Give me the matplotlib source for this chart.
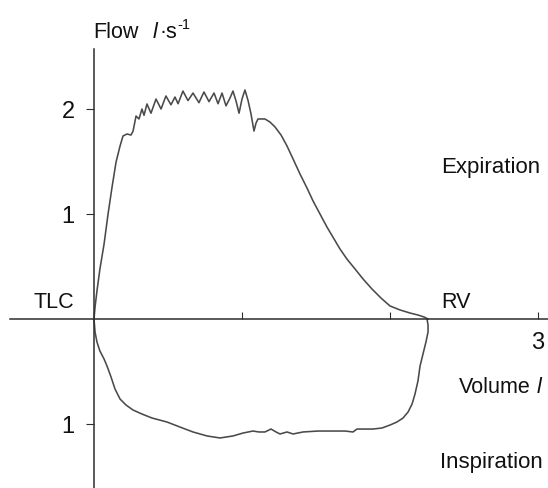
import matplotlib
matplotlib.use("Agg")
import matplotlib.pyplot as plt

# ---- data (volume in litres from TLC, flow in l/s; inspiration drawn downward) ----
exp_volume = [0.00, 0.007, 0.02, 0.04, 0.068, 0.095, 0.122, 0.149, 0.176, 0.196,
              0.223, 0.25, 0.264, 0.284, 0.304, 0.324, 0.338, 0.358, 0.385, 0.419,
              0.453, 0.486, 0.52, 0.547, 0.568, 0.601, 0.635, 0.669, 0.709, 0.743,
              0.777, 0.811, 0.838, 0.865, 0.892, 0.919, 0.939, 0.959, 0.98, 1.0,
              1.02, 1.041, 1.061, 1.081, 1.095, 1.108, 1.155, 1.189, 1.223, 1.264,
              1.304, 1.345, 1.392, 1.439, 1.48, 1.527, 1.574, 1.622, 1.662, 1.709,
              1.764, 1.818, 1.878, 1.939, 2.0, 2.068, 2.135, 2.189, 2.23, 2.257]
exp_flow = [0.0, 0.114, 0.267, 0.476, 0.714, 1.0, 1.257, 1.495, 1.648, 1.743,
            1.762, 1.752, 1.79, 1.933, 1.905, 2.0, 1.94, 2.048, 1.96, 2.095,
            2.0, 2.124, 2.04, 2.114, 2.05, 2.171, 2.08, 2.152, 2.06, 2.162,
            2.07, 2.152, 2.05, 2.152, 2.03, 2.105, 2.171, 2.08, 1.96, 2.095,
            2.181, 2.08, 1.952, 1.79, 1.867, 1.905, 1.905, 1.876, 1.829, 1.752,
            1.648, 1.524, 1.381, 1.248, 1.124, 1.0, 0.876, 0.762, 0.667, 0.571,
            0.476, 0.381, 0.286, 0.2, 0.124, 0.086, 0.057, 0.038, 0.019, 0.0]

insp_volume = [0.0, 0.007, 0.02, 0.04, 0.068, 0.088, 0.115, 0.142, 0.176, 0.216,
               0.264, 0.324, 0.392, 0.493, 0.581, 0.669, 0.764, 0.851, 0.939, 1.007,
               1.074, 1.115, 1.155, 1.196, 1.23, 1.257, 1.304, 1.345, 1.412, 1.514,
               1.615, 1.696, 1.75, 1.777, 1.831, 1.885, 1.946, 2.0, 2.047, 2.088,
               2.122, 2.149, 2.169, 2.189, 2.203, 2.223, 2.243, 2.257, 2.257, 2.25]
insp_flow = [0.0, -0.124, -0.219, -0.305, -0.381, -0.448, -0.552, -0.667, -0.762, -0.819,
             -0.867, -0.905, -0.943, -0.981, -1.029, -1.076, -1.114, -1.133, -1.114, -1.086,
             -1.067, -1.076, -1.076, -1.048, -1.076, -1.095, -1.076, -1.095, -1.076, -1.067,
             -1.067, -1.067, -1.076, -1.048, -1.048, -1.048, -1.038, -1.01, -0.981, -0.943,
             -0.886, -0.81, -0.714, -0.59, -0.448, -0.333, -0.219, -0.124, -0.057, 0.0]

y_tick_values = [-1, 1, 2]
y_tick_labels = ["1", "1", "2"]
x_tick_values = [1, 2, 3]
x_tick_labels = ["", "", "3"]

# ---- figure ----
W, H = 548, 489
fig = plt.figure(figsize=(W / 100, H / 100), dpi=100)
ax = fig.add_axes([0, 0, 1, 1])
ax.set_facecolor("white")

X0, Y0, SX, SY = 94, 320, 148, 105   # pixel layout of the axes origin and scales
ax.set_xlim(-X0 / SX, (W - X0) / SX)
ax.set_ylim(-(H - Y0) / SY, Y0 / SY)

FONT = ["Liberation Sans", "DejaVu Sans"]

curve_color = "#4a4a4a"
axis_color = "#2e2e2e"
text_color = "#111111"

ax.plot(exp_volume, exp_flow, color=curve_color, lw=1.15, solid_joinstyle="round")
ax.plot(insp_volume, insp_flow, color=curve_color, lw=1.15, solid_joinstyle="round")

for s in ("top", "right"):
    ax.spines[s].set_visible(False)
ax.spines["left"].set_position(("data", 0))
ax.spines["bottom"].set_position(("data", 0))
ax.spines["left"].set_bounds(-(H - Y0) / SY, (Y0 - 50) / SY)
ax.spines["bottom"].set_bounds((10 - X0) / SX, (W - X0) / SX)
for s in ("left", "bottom"):
    ax.spines[s].set_color(axis_color)
    ax.spines[s].set_linewidth(1.1)

ax.set_yticks(y_tick_values)
ax.set_yticklabels(y_tick_labels, family=FONT)
ax.set_xticks(x_tick_values)
ax.set_xticklabels(x_tick_labels, family=FONT)
ax.tick_params(axis="y", direction="out", length=6, width=0.8, pad=8,
               labelsize=17, colors=axis_color, labelcolor=text_color)
ax.tick_params(axis="x", direction="in", length=5, width=0.8, pad=9,
               labelsize=17, colors=axis_color, labelcolor=text_color)


def ftext(px, py, s, size=16, **kw):
    fig.text(px / W, 1 - py / H, s, ha="left", va="baseline", fontsize=size,
             family=FONT, color=text_color, **kw)


# Flow  l·s^-1
ftext(93, 38, "Flow", size=15.5)
ftext(153, 38, "l", size=15.5, style="italic")
ftext(159, 38, "·s", size=15.5)
ftext(177, 29, "-1", size=10.5)

ftext(33, 308, "TLC", size=15.5)
ftext(441, 308, "RV", size=15.5)
ftext(441, 173, "Expiration")
ftext(459, 393, "Volume", size=15.5)
ftext(537, 393, "l", size=15.5, style="italic")
ftext(440, 468, "Inspiration")

fig.savefig("out.png", dpi=100, facecolor="white")
